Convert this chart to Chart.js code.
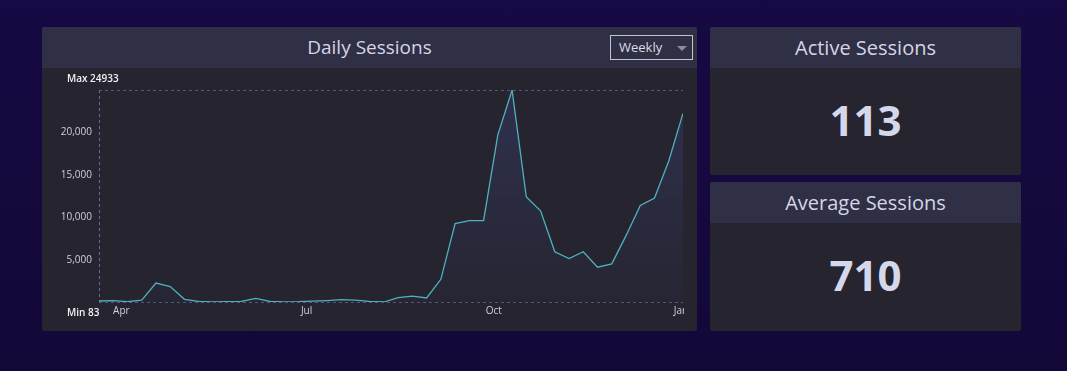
<!DOCTYPE html>
<html>
<head>
<meta charset="utf-8">
<script src="https://cdn.jsdelivr.net/npm/chart.js@4"></script>
<style>
  html, body { margin: 0; padding: 0; }
  body {
    width: 1067px; height: 371px; overflow: hidden;
    background: linear-gradient(180deg, #170a44 0%, #130838 100%);
    font-family: "Open Sans", sans-serif;
    position: relative;
  }
  .panel { position: absolute; background: #25242f; border-radius: 2px; overflow: hidden; }
  .panel .head { height: 41px; background: #2f2f45; color: #d6d6e6; font-size: 20px; line-height: 41px; text-align: center; }
  .big { position: absolute; left: 0; right: 0; text-align: center; color: #d5d7ea; font-weight: 700; font-size: 42px; }
  #main { left: 42px; top: 27px; width: 655px; height: 304px; }
  #main .head { font-size: 19px; position: relative; }
  #drop {
    position: absolute; left: 568px; top: 8px; width: 81px; height: 23px;
    border: 1px solid #c4c4cc; box-sizing: content-box;
    font-size: 13px; line-height: 23px; color: #dcdce6; text-align: left;
  }
  #drop span { position: absolute; left: 8px; top: 0; }
  #drop i {
    position: absolute; left: 66px; top: 10px; width: 0; height: 0;
    border-left: 5px solid transparent; border-right: 5px solid transparent;
    border-top: 5px solid #8c8ca2;
  }
  #wrap { position: absolute; left: 0; top: 41px; width: 642px; height: 263px; }
</style>
</head>
<body>
<div class="panel" id="main">
  <div class="head">Daily Sessions
    <div id="drop"><span>Weekly</span><i></i></div>
  </div>
  <div id="wrap"><canvas id="chart-sessions"></canvas></div>
</div>
<div class="panel" style="left:710px; top:27px; width:311px; height:148px;">
  <div class="head">Active Sessions</div>
  <div class="big" style="top:64px;">113</div>
</div>
<div class="panel" style="left:710px; top:182px; width:311px; height:149px;">
  <div class="head">Average Sessions</div>
  <div class="big" style="top:64px;">710</div>
</div>
<script>
// weekly buckets
const weeks = [
  '2019-03-21', '2019-03-28', '2019-04-04', '2019-04-11', '2019-04-18', '2019-04-25',
  '2019-05-02', '2019-05-09', '2019-05-16', '2019-05-23', '2019-05-30',
  '2019-06-06', '2019-06-13', '2019-06-20', '2019-06-27',
  '2019-07-04', '2019-07-11', '2019-07-18', '2019-07-25',
  '2019-08-01', '2019-08-08', '2019-08-15', '2019-08-22', '2019-08-29',
  '2019-09-05', '2019-09-12', '2019-09-19', '2019-09-26',
  '2019-10-03', '2019-10-10', '2019-10-17', '2019-10-24', '2019-10-31',
  '2019-11-07', '2019-11-14', '2019-11-21', '2019-11-28',
  '2019-12-05', '2019-12-12', '2019-12-19', '2019-12-26',
  '2020-01-02'
]
const sessions = [
  200, 250, 120, 300, 2300, 1900,
  400, 150, 100, 120, 150,
  500, 150, 100, 120,
  180, 250, 350, 300,
  150, 83, 600, 760, 550,
  2740, 9280, 9630, 9630,
  19680, 24933, 12390, 10780, 5970,
  5180, 5970, 4160, 4550,
  7860, 11410, 12270, 16610,
  22200
]
const monthTicks = ['2019-04-01', '2019-07-01', '2019-10-01', '2020-01-01']
const monthLabels = ['Apr', 'Jul', 'Oct', 'Jan']
const yTicks = [5000, 10000, 15000, 20000]

const day = (s) => Date.parse(s + 'T00:00:00Z') / 86400000
const day0 = day(weeks[0])
const xs = weeks.map(w => day(w) - day0)
const monthX = monthTicks.map(m => day(m) - day0)
const minV = Math.min(...sessions)
const maxV = Math.max(...sessions)

const minMaxLabels = {
  id: 'minMaxLabels',
  afterDraw(chart) {
    const ctx = chart.ctx
    const y = chart.scales.y
    ctx.save()
    ctx.font = '600 10px "Open Sans"'
    ctx.fillStyle = '#f2f2f6'
    ctx.textAlign = 'left'
    ctx.textBaseline = 'middle'
    ctx.fillText('Max ' + maxV, 25, y.getPixelForValue(maxV) - 11)
    ctx.fillText('Min ' + minV, 25, y.getPixelForValue(minV) + 11)
    ctx.restore()
  }
}

const ctx_sessions = document.getElementById('chart-sessions')
const chart_sessions = new Chart(ctx_sessions, {
    type: 'line',
    data: {
        datasets: [{
            label: 'Sessions',
            data: xs.map((x, i) => ({ x: x, y: sessions[i] })),
            borderColor: '#4fb2bf',
            borderWidth: 1.3,
            pointRadius: 0,
            tension: 0,
            fill: 'start',
            backgroundColor: (c) => {
                const a = c.chart.chartArea
                if (!a) return 'rgba(55,60,110,0.3)'
                const g = c.chart.ctx.createLinearGradient(0, a.top, 0, a.bottom)
                g.addColorStop(0, 'rgba(58,62,108,0.5)')
                g.addColorStop(1, 'rgba(58,62,108,0.08)')
                return g
            }
        }]
    },
    options: {
        responsive: true,
        maintainAspectRatio: false,
        animation: false,
        layout: { padding: { left: 0, right: 1, top: 22, bottom: 0 } },
        plugins: { legend: { display: false }, tooltip: { enabled: false } },
        scales: {
            x: {
                type: 'linear',
                min: 0,
                max: xs[xs.length - 1],
                afterBuildTicks: (s) => { s.ticks = [0, ...monthX].map(v => ({ value: v })) },
                afterFit: (s) => { s.height = 29; s.paddingLeft = 0; s.paddingRight = 0 },
                ticks: {
                    autoSkip: false,
                    maxRotation: 0,
                    padding: 3,
                    color: '#d0d0da',
                    font: { family: 'Open Sans', size: 10 },
                    callback: (v) => { const i = monthX.indexOf(v); return i < 0 ? '' : monthLabels[i] }
                },
                grid: {
                    drawTicks: false,
                    lineWidth: 1,
                    color: (c) => c.tick && c.tick.value === 0 ? '#6468a8' : 'rgba(0,0,0,0)'
                },
                border: { display: false, dash: [3, 3] }
            },
            y: {
                min: minV,
                max: maxV,
                afterBuildTicks: (s) => { s.ticks = [minV, ...yTicks, maxV].map(v => ({ value: v })) },
                afterFit: (s) => { s.width = 57 },
                ticks: {
                    padding: 7,
                    color: '#d0d0da',
                    font: { family: 'Open Sans', size: 10 },
                    callback: (v) => (v === minV || v === maxV) ? '' : v.toLocaleString('en-US')
                },
                grid: {
                    drawTicks: false,
                    color: (c) => c.tick && (c.tick.value === minV || c.tick.value === maxV) ? 'rgba(100,104,150,0.75)' : 'rgba(0,0,0,0)'
                },
                border: { display: false, dash: [3, 3] }
            }
        }
    },
    plugins: [minMaxLabels]
})
</script>
</body>
</html>
